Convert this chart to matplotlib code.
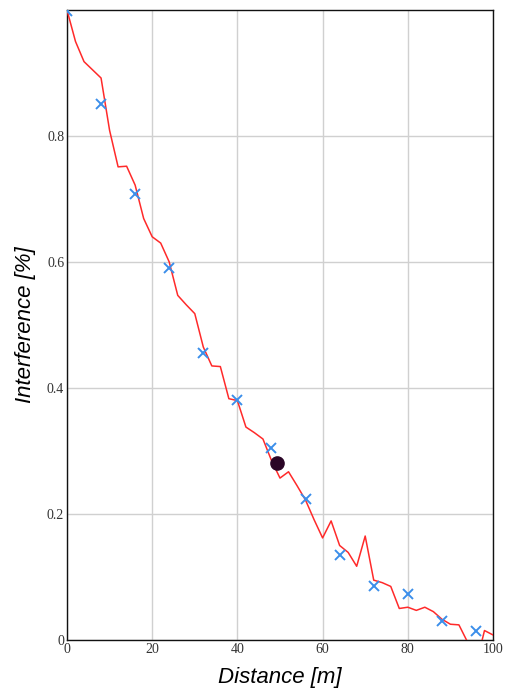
import numpy as np
import matplotlib.pyplot as plt

# simulated interference along the path (red line), sampled every 2 m
sim_dist = [0, 2, 4, 6, 8, 10, 12, 14, 16, 18, 20, 22, 24, 26, 28, 30, 32, 34,
            36, 38, 40, 42, 44, 46, 48, 50, 52, 54, 56, 58, 60, 62, 64, 66, 68,
            70, 72, 74, 76, 78, 80, 82, 84, 86, 88, 90, 92, 94, 96, 98, 100]
sim_interf = [1.0, 0.950, 0.918, 0.905, 0.892, 0.809, 0.751, 0.752, 0.722,
              0.669, 0.640, 0.630, 0.600, 0.547, 0.532, 0.518, 0.465, 0.435,
              0.434, 0.383, 0.380, 0.338, 0.329, 0.319, 0.285, 0.257, 0.267,
              0.245, 0.222, 0.191, 0.162, 0.189, 0.150, 0.139, 0.117, 0.165,
              0.095, 0.091, 0.085, 0.050, 0.052, 0.047, 0.052, 0.045, 0.033,
              0.025, 0.024, -0.003, -0.040, 0.015, 0.008]

# measured points (blue crosses)
meas_dist = [0, 8, 16, 24, 32, 40, 48, 56, 64, 72, 80, 88, 96]
meas_interf = [0.998, 0.851, 0.708, 0.591, 0.456, 0.381, 0.305, 0.223,
               0.135, 0.085, 0.073, 0.030, 0.014]

# current position
pos_dist = [49.4]
pos_interf = [0.281]

x_ticks = [0, 20, 40, 60, 80, 100]
y_ticks = [0, 0.2, 0.4, 0.6, 0.8]
y_tick_labels = ['0', '0.2', '0.4', '0.6', '0.8']

fig = plt.figure(figsize=(5.07, 6.93), dpi=100)
ax = fig.add_axes([0.1321, 0.0765, 0.8403, 0.9091])

ax.plot(sim_dist, sim_interf, color='#ff2a2a', lw=1.1, zorder=3)
ax.plot(meas_dist, meas_interf, 'x', color='#3b8eea', ms=7, mew=1.4, zorder=4)
ax.plot(pos_dist, pos_interf, 'o', color='#2a0526', ms=9.5, zorder=5)

ax.set_xlim(0, 100)
ax.set_ylim(0, 1)
ax.set_xticks(x_ticks)
ax.set_yticks(y_ticks)
ax.set_yticklabels(y_tick_labels)
ax.tick_params(length=0, pad=2, labelsize=10, labelcolor='#333333')
for lab in ax.get_xticklabels() + ax.get_yticklabels():
    lab.set_family('Liberation Serif')

ax.grid(True, color='#d0d0d0', lw=1)
ax.set_axisbelow(True)
for sp in ax.spines.values():
    sp.set_color('#111111')
    sp.set_linewidth(1)

ax.set_xlabel('Distance [m]', family='Liberation Sans', style='italic',
              fontsize=16, labelpad=8)
ax.set_ylabel('Interference [%]', family='Liberation Sans', style='italic',
              fontsize=16, labelpad=8)

plt.savefig('out.png', dpi=100)
